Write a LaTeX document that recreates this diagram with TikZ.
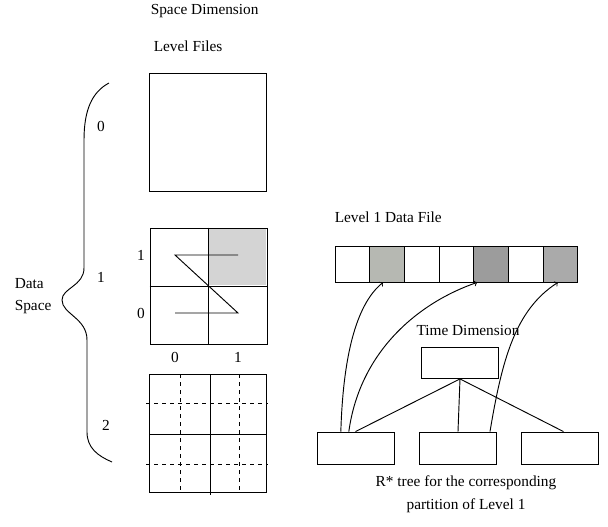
\documentclass[tikz,border=0pt]{standalone}
\usepackage{fontspec}
\setmainfont{Liberation Serif}
\usetikzlibrary{positioning}

\definecolor{zoneshade}{RGB}{212,212,212}
\definecolor{cellA}{RGB}{182,184,178}
\definecolor{cellB}{RGB}{156,156,156}
\definecolor{cellC}{RGB}{170,170,170}

\def\px{0.75pt}

\tikzset{
  levelbox/.style={draw,line width=0.65pt,inner sep=0,minimum width=117*\px,minimum height=118*\px},
  cellbox/.style={draw,line width=0.65pt,inner sep=0,minimum width=34.7*\px,minimum height=36*\px},
  treebox/.style={draw,line width=0.65pt,inner sep=0,minimum width=77*\px,minimum height=31*\px},
  lbl/.style={inner sep=1pt}
}

\begin{document}
\begin{tikzpicture}[x=0.75pt,y=-0.75pt,font=\fontsize{11.5}{17}\selectfont,line width=0.7pt]
    \useasboundingbox (0,0) rectangle (608,526);

    % headings
    \node[lbl,anchor=west] (spacedim) at (149,11) {Space Dimension};
    \node[lbl,anchor=west] (levfiles) at (152,46) {Level Files};

    % level 0
    \node[levelbox] (lvlzero) at (207.5,132) {};

    % level 1
    \fill[zoneshade] (209,228) rectangle (266,285);
    \node[levelbox,minimum height=116*\px] (lvlone) at (208.5,286) {};
    \draw (lvlone.north) -- (lvlone.south);
    \draw (lvlone.west) -- (lvlone.east);
    \draw (238,255) -- (175,255) -- (238,313) -- (175,313);
    \node[lbl] (rowone) at (141,255) {1};
    \node[lbl] (rowzero) at (141,313) {0};
    \node[lbl] (colzero) at (175,357) {0};
    \node[lbl] (colone) at (238,357) {1};

    % level 2
    \node[levelbox] (lvltwo) at (207.5,433) {};
    \draw (210,374) -- (210,495);
    \draw (149,434) -- (266,434);
    \draw[dashed] (180,374) -- (180,492);
    \draw[dashed] (239,374) -- (239,492);
    \draw[dashed] (146,403) -- (268,403);
    \draw[dashed] (146,464) -- (268,464);

    % brace and level numbers
    \draw (109,83) .. controls (92,92) and (84,110) .. (84,140) -- (84,268)
          .. controls (84,286) and (62,288) .. (62,300)
          .. controls (62,314) and (87,318) .. (87,340) -- (87,432)
          .. controls (87,448) and (98,456) .. (112,462);
    \node[lbl] (numzero) at (101,126) {0};
    \node[lbl] (numone) at (101,277) {1};
    \node[lbl] (numtwo) at (106,425) {2};
    \node[lbl,anchor=west,align=left] (dataspace) at (13,296) {Data\\Space};

    % level 1 data file
    \node[lbl,anchor=west] (datafile) at (333,217) {Level 1 Data File};
    \foreach \i/\c in {1/white,2/cellA,3/white,4/white,5/cellB,6/white,7/cellC}
      \node[cellbox,fill=\c] (c\i) at (335+34.7*\i-17.35,264) {};

    % R* tree
    \node[lbl] (timedim) at (468,330) {Time Dimension};
    \node[treebox] (root) at (460,363) {};
    \node[treebox,minimum height=32*\px] (leafA) at (355.5,448) {};
    \node[treebox,minimum height=32*\px] (leafB) at (458,448) {};
    \node[treebox,minimum height=32*\px] (leafC) at (559.5,448) {};
    \draw (root.south) -- (leafA.north);
    \draw (root.south) -- (leafB.north);
    \draw (root.south) -- ([xshift=3pt]leafC.north);

    \draw[->] ([xshift=-11pt]leafA.north) .. controls (343,360) and (355,305) .. ([xshift=-3pt]c2.south);
    \draw[->] ([xshift=-5pt]leafA.north) .. controls (360,350) and (420,302) .. ([xshift=-10.5pt]c5.south);
    \draw[->] ([xshift=24pt]leafB.north) .. controls (502,360) and (515,310) .. ([xshift=-2pt]c7.south);

    \node[lbl,align=center] (caption) at (466,494) {R* tree for the corresponding\\partition of Level 1};
\end{tikzpicture}
\end{document}
